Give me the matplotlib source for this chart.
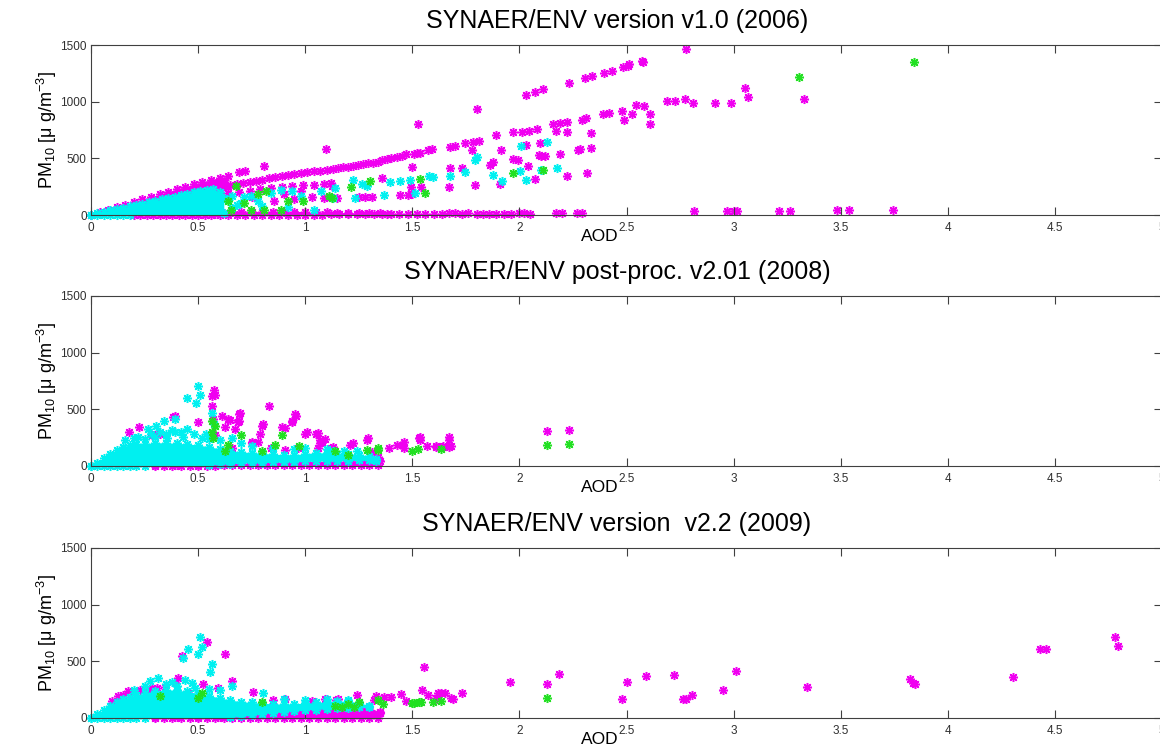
import matplotlib
matplotlib.use('Agg')
import matplotlib.pyplot as plt

plt.rcParams['font.family'] = ['Liberation Sans', 'DejaVu Sans']

MAGENTA = '#f000f0'
CYAN = '#00f0f0'
GREEN = '#22e022'
STAR = (8, 2, 0)

titles = ['SYNAER/ENV version v1.0 (2006)',
          'SYNAER/ENV post-proc. v2.01 (2008)',
          'SYNAER/ENV version  v2.2 (2009)']
aod_ticks = [0, 0.5, 1, 1.5, 2, 2.5, 3, 3.5, 4, 4.5, 5]
aod_labels = ['0', '0.5', '1', '1.5', '2', '2.5', '3', '3.5', '4', '4.5', '5']
pm_ticks = [0, 500, 1000, 1500]
pm_labels = ['0', '500', '1000', '1500']

# ---------------- v1.0 (2006) ----------------
v10_mag_wedge_aod = [0, 0.04, 0.08, 0.12, 0.16, 0.20, 0.24, 0.28, 0.32, 0.36, 0.40, 0.44, 0.48, 0.52, 0.56, 0.60, 0.64]
v10_mag_wedge_low = [0, 0, 0, 0, 0, 0, 0, 0, 0, 0, 0, 0, 0, 0, 0, 180, 250]
v10_mag_wedge_high = [0, 23, 46, 69, 92, 116, 138, 161, 183, 206, 228, 250, 272, 292, 311, 330, 342]

v10_mag_base_aod = [0.58, 0.62, 0.66, 0.70, 0.75, 0.80, 0.85, 0.90, 0.95, 1.00, 1.05, 1.10, 1.15, 1.20, 1.25, 1.30, 1.35, 1.38]
v10_mag_base_high = [12, 18, 24, 26, 28, 28, 28, 28, 28, 26, 25, 24, 22, 20, 18, 16, 14, 12]

v10_mag_line_a = [(0.69, 376), (0.717, 384), (0.806, 433), (1.097, 583), (1.528, 800), (1.80, 938),
                  (2.033, 1059), (2.075, 1083), (2.111, 1111), (2.231, 1169), (2.306, 1212), (2.337, 1226),
                  (2.394, 1255), (2.43, 1275), (2.484, 1304), (2.508, 1313), (2.514, 1329), (2.574, 1357),
                  (2.578, 1346), (2.78, 1466)]
v10_mag_line_b = [(0.50, 212), (0.53, 222), (0.56, 232), (0.59, 242), (0.62, 252), (0.65, 262), (0.68, 272),
                  (0.71, 283), (0.74, 293), (0.77, 303), (0.80, 313), (0.83, 323), (0.86, 333), (0.89, 342),
                  (0.92, 351), (0.95, 360), (0.98, 368), (1.01, 376), (1.04, 384), (1.07, 391), (1.10, 398),
                  (1.131, 403), (1.155, 412), (1.178, 420), (1.201, 426), (1.225, 432), (1.248, 440),
                  (1.271, 449), (1.295, 455), (1.318, 461), (1.34, 470), (1.36, 485), (1.38, 498), (1.40, 504),
                  (1.43, 512), (1.45, 524), (1.47, 535), (1.51, 541), (1.52, 547), (1.536, 550), (1.575, 576),
                  (1.59, 579), (1.676, 599), (1.70, 605), (1.746, 633), (1.785, 642), (1.81, 656), (1.89, 708),
                  (1.968, 734), (2.01, 734), (2.044, 743), (2.08, 763), (2.155, 800), (2.19, 815), (2.22, 823),
                  (2.29, 840), (2.313, 858), (2.39, 893), (2.42, 901), (2.48, 921), (2.526, 891), (2.543, 968),
                  (2.581, 959), (2.612, 891), (2.612, 805), (2.488, 834), (2.687, 1010), (2.725, 1010),
                  (2.773, 1025), (2.81, 988), (2.915, 990), (2.99, 990), (3.054, 1124), (3.067, 1039),
                  (3.327, 1025)]
v10_mag_line_c = [(0.64, 197), (0.69, 206), (0.74, 216), (0.79, 226), (0.84, 236), (0.89, 245), (0.94, 254),
                  (0.99, 262), (1.04, 268), (1.09, 275), (1.12, 281)]
v10_mag_scatter = [(0.856, 121), (1.09, 149), (1.12, 155), (0.98, 211), (0.90, 183), (0.75, 160), (0.95, 140),
                   (1.03, 160), (1.777, 576), (1.912, 576), (2.033, 619), (2.096, 633), (2.17, 743), (2.22, 734),
                   (2.336, 720), (2.274, 570), (2.336, 592), (2.284, 583), (2.10, 525), (2.09, 530), (2.12, 522),
                   (2.19, 541), (1.97, 498), (1.995, 489), (1.862, 440), (1.878, 469), (1.73, 412), (1.676, 412),
                   (1.497, 426), (1.357, 325), (1.671, 248), (1.795, 262), (1.909, 276), (2.072, 320),
                   (2.223, 345), (2.315, 370), (1.496, 248), (1.54, 248), (1.442, 178), (1.48, 178),
                   (1.497, 184), (1.253, 158), (1.279, 158), (1.31, 158), (1.147, 147), (1.124, 259), (2.04, 432)]
v10_mag_floor = [(0.20, 0), (0.23, 0), (0.26, 0), (0.29, 0), (0.32, 0), (0.35, 0), (0.38, 0), (0.41, 0),
                 (0.44, 0), (0.47, 0), (0.50, 0), (0.53, 0), (0.56, 0), (0.60, 3), (0.64, 3), (0.68, 3),
                 (0.72, 3), (0.76, 3), (0.80, 3), (0.84, 3), (0.88, 3), (0.92, 3), (0.96, 3), (1.00, 3),
                 (1.04, 3), (1.08, 3), (1.12, 5), (1.16, 5), (1.20, 5), (1.24, 5), (1.28, 5), (1.32, 5),
                 (1.36, 5), (1.40, 10), (1.44, 10), (1.48, 12), (1.52, 10), (1.56, 12), (1.60, 10), (1.64, 12),
                 (1.67, 15), (1.70, 15), (1.73, 12), (1.76, 15), (1.80, 12), (1.83, 12), (1.86, 12), (1.89, 12),
                 (1.93, 12), (1.96, 12), (2.00, 15), (2.02, 15), (2.05, 12), (2.17, 15), (2.20, 15), (2.27, 15),
                 (2.29, 20), (2.817, 37), (2.967, 37), (3.00, 37), (3.016, 37), (3.214, 37), (3.261, 37),
                 (3.483, 43), (3.538, 43), (3.746, 48)]

v10_cyan_aod = [0, 0.03, 0.06, 0.09, 0.12, 0.15, 0.18, 0.21, 0.24, 0.27, 0.30, 0.33, 0.36, 0.39, 0.42, 0.45,
                0.48, 0.51, 0.54, 0.57, 0.60, 0.62]
v10_cyan_low = [0, 0, 0, 0, 0, 0, 0, 0, 0, 0, 0, 0, 0, 0, 0, 0, 0, 0, 0, 0, 0, 20]
v10_cyan_high = [0, 15, 28, 40, 52, 64, 76, 88, 100, 113, 126, 138, 151, 163, 176, 188, 201, 212, 220, 226,
                 205, 150]
v10_cyan_floor = [(0.0, 0), (0.03, 0), (0.06, 0), (0.09, 0), (0.12, 0), (0.15, 0), (0.18, 0)]
v10_cyan_scatter = [(0.716, 155), (0.747, 169), (0.778, 126), (0.84, 197), (0.887, 225), (0.94, 211),
                    (0.98, 169), (1.04, 48), (1.128, 149), (1.074, 211), (0.68, 84), (0.66, 60), (0.70, 110),
                    (0.80, 80), (0.92, 70), (0.64, 130), (0.66, 170), (1.795, 489), (1.80, 512), (2.007, 613),
                    (2.127, 642), (2.174, 412), (2.10, 400), (1.878, 354), (1.921, 297), (2.002, 392),
                    (2.033, 311), (1.746, 383), (1.676, 345), (1.58, 345), (1.597, 334), (1.49, 311),
                    (1.443, 302), (1.396, 291), (1.264, 276), (1.287, 259), (1.225, 311), (1.37, 173),
                    (1.232, 153), (1.139, 239), (1.512, 196)]
v10_green = [(0.677, 253), (0.778, 183), (0.817, 211), (0.918, 126), (0.988, 126), (1.113, 169), (0.654, 42),
             (0.747, 42), (0.809, 42), (0.887, 42), (0.716, 104), (0.638, 126), (1.536, 320), (1.302, 299),
             (1.212, 248), (1.559, 196), (1.968, 374), (1.124, 153), (2.11, 395), (3.305, 1215), (3.84, 1346)]

# ---------------- v2.01 (2008) ----------------
v201_mag_base_aod = [0.30, 0.40, 0.50, 0.60, 0.70, 0.80, 0.90, 1.00, 1.10, 1.20, 1.30, 1.35]
v201_mag_base_high = [5, 8, 12, 20, 25, 30, 35, 40, 42, 45, 48, 40]
v201_mag_floor = [(0.30, 0), (0.34, 0), (0.38, 0), (0.42, 0), (0.46, 0), (0.50, 0), (0.54, 0), (0.58, 0),
                  (0.62, 5), (0.66, 5), (0.70, 5), (0.74, 5), (0.78, 5), (0.82, 5), (0.86, 5), (0.90, 5),
                  (0.94, 5), (0.98, 5), (1.02, 5), (1.06, 5), (1.10, 5), (1.14, 5), (1.18, 5), (1.22, 5),
                  (1.26, 5), (1.30, 5), (1.34, 5)]
v201_mag_scatter = [(0.179, 300), (0.223, 343), (0.32, 286), (0.393, 443), (0.573, 671), (0.58, 629),
                    (0.563, 614), (0.563, 529), (0.50, 386), (0.57, 414), (0.61, 443), (0.64, 414), (0.69, 400),
                    (0.69, 457), (0.625, 343), (0.58, 271), (0.67, 329), (0.75, 214), (0.79, 286), (0.80, 357),
                    (0.83, 529), (0.893, 343), (0.94, 400), (0.955, 443), (1.00, 286), (1.05, 286), (1.07, 229),
                    (1.07, 200), (1.21, 186), (1.29, 229), (1.13, 170), (1.223, 200), (1.294, 244), (1.31, 126),
                    (1.345, 53), (1.34, 82), (1.27, 53), (1.216, 53), (1.14, 53), (1.427, 185), (1.461, 214),
                    (1.461, 156), (1.536, 259), (1.536, 229), (1.567, 176), (1.61, 176), (1.645, 176),
                    (1.673, 259), (1.68, 176), (2.127, 306), (2.23, 320), (0.283, 271), (0.306, 286),
                    (0.384, 429), (0.649, 409), (0.688, 386), (0.696, 466), (0.805, 371), (0.906, 334),
                    (0.937, 386), (0.952, 457), (1.007, 300), (1.06, 294), (1.077, 214), (1.092, 237),
                    (0.657, 157), (0.75, 200), (0.78, 214), (0.84, 157), (0.906, 143), (0.968, 157), (1.06, 157),
                    (1.12, 157), (1.39, 157), (1.45, 186), (1.53, 243), (1.61, 171), (1.64, 171), (1.67, 229),
                    (1.67, 171)]

v201_cyan_aod = [0, 0.03, 0.06, 0.09, 0.12, 0.15, 0.18, 0.21, 0.25, 0.30, 0.35, 0.40, 0.45, 0.50, 0.55, 0.60,
                 0.65, 0.70, 0.75, 0.80, 0.85, 0.90, 0.95, 1.00, 1.05, 1.10, 1.15, 1.20, 1.25, 1.30, 1.33]
v201_cyan_low = [0, 0, 0, 0, 0, 0, 0, 0, 0, 0, 0, 0, 0, 0, 5, 15, 20, 25, 28, 30, 32, 35, 38, 40, 42, 45, 45,
                 48, 50, 50, 45]
v201_cyan_high = [0, 30, 70, 110, 145, 170, 185, 192, 198, 205, 205, 200, 195, 185, 170, 152, 135, 125, 118,
                  112, 105, 100, 100, 108, 118, 115, 110, 110, 100, 90, 60]
v201_cyan_floor = [(0.0, 0), (0.03, 0), (0.06, 0), (0.09, 0), (0.12, 0), (0.15, 0), (0.18, 0), (0.21, 0),
                   (0.25, 0)]
v201_cyan_scatter = [(0.50, 706), (0.446, 600), (0.509, 629), (0.491, 557), (0.563, 471), (0.34, 400),
                     (0.304, 357), (0.268, 329), (0.393, 414), (0.573, 371), (0.536, 286), (0.66, 243),
                     (0.16, 230), (0.20, 250), (0.22, 260), (0.25, 240), (0.28, 280), (0.30, 260), (0.32, 300),
                     (0.35, 280), (0.357, 250), (0.38, 320), (0.39, 300), (0.42, 300), (0.43, 257), (0.45, 330),
                     (0.48, 280), (0.52, 250), (0.55, 240), (0.60, 230), (0.70, 200), (0.75, 180), (0.85, 160),
                     (0.95, 150), (1.00, 160), (1.10, 150), (1.13, 130), (1.18, 130), (1.24, 130)]
v201_green = [(2.127, 183), (2.23, 190), (1.497, 135), (1.528, 147), (1.634, 147), (1.34, 159), (0.893, 271),
              (0.86, 186), (0.563, 400), (0.563, 300), (0.64, 186), (0.70, 271), (1.29, 143), (1.14, 129),
              (1.34, 143), (0.80, 129), (0.625, 129), (0.58, 350), (0.57, 250), (0.97, 180), (1.20, 100)]

# ---------------- v2.2 (2009) ----------------
v22_mag_base_aod = [0.30, 0.40, 0.50, 0.60, 0.65, 0.70, 0.75, 0.80, 0.85, 0.90, 0.95, 1.00, 1.05, 1.10, 1.15,
                    1.20, 1.25, 1.30, 1.35]
v22_mag_base_high = [5, 5, 5, 8, 12, 22, 32, 45, 52, 62, 70, 78, 83, 88, 93, 98, 100, 95, 50]
v22_mag_floor = [(0.30, 0), (0.34, 0), (0.38, 0), (0.42, 0), (0.46, 0), (0.50, 0), (0.54, 0), (0.58, 0),
                 (0.62, 0), (0.66, 3), (0.70, 3), (0.74, 3), (0.78, 3), (0.82, 3), (0.86, 3), (0.90, 3),
                 (0.94, 3), (0.98, 3), (1.02, 3), (1.06, 3), (1.10, 3), (1.14, 3), (1.18, 3), (1.22, 3),
                 (1.26, 3), (1.30, 3), (1.34, 3)]
v22_mag_edge = [(0.10, 150), (0.128, 194), (0.15, 200), (0.174, 237), (0.20, 230), (0.23, 245), (0.26, 250),
                (0.283, 262), (0.307, 262), (0.345, 275)]
v22_mag_scatter = [(0.54, 671), (0.423, 546), (0.626, 566), (0.657, 329), (0.594, 266), (0.524, 300),
                   (0.408, 357), (0.758, 229), (0.392, 309), (0.454, 223), (0.851, 157), (0.906, 166),
                   (1.03, 151), (1.092, 166), (1.155, 166), (1.553, 450), (1.957, 315), (2.128, 300),
                   (2.187, 388), (1.445, 212), (1.544, 250), (1.571, 205), (1.634, 218), (1.652, 218),
                   (1.688, 165), (1.733, 225), (1.47, 150), (1.616, 165), (1.40, 184), (1.33, 190), (1.35, 42),
                   (1.32, 160), (1.367, 188), (1.242, 200), (1.145, 156), (1.622, 223), (1.61, 174), (1.68, 174),
                   (2.478, 168), (2.50, 321), (2.592, 369), (2.72, 383), (2.765, 168), (2.777, 168),
                   (2.808, 201), (2.95, 243), (3.01, 419), (3.343, 277), (3.824, 341), (3.836, 313),
                   (3.846, 304), (4.305, 360), (4.43, 612), (4.46, 612), (4.78, 712), (4.796, 634)]

v22_cyan_aod = [0, 0.03, 0.06, 0.09, 0.12, 0.15, 0.18, 0.21, 0.25, 0.30, 0.35, 0.40, 0.45, 0.50, 0.55, 0.60,
                0.65, 0.70, 0.75, 0.80, 0.85, 0.90, 0.95, 1.00, 1.05, 1.10, 1.15, 1.20, 1.25, 1.30]
v22_cyan_low = [0, 0, 0, 0, 0, 0, 0, 0, 0, 0, 0, 0, 0, 0, 0, 0, 5, 15, 25, 38, 45, 55, 62, 70, 75, 80, 85, 90,
                95, 95]
v22_cyan_high = [0, 35, 70, 105, 140, 165, 185, 200, 220, 240, 250, 245, 235, 215, 198, 178, 158, 145, 137,
                 130, 125, 123, 126, 132, 137, 143, 148, 150, 135, 110]
v22_cyan_floor = [(0.0, 0), (0.03, 0), (0.06, 0), (0.09, 0), (0.12, 0), (0.15, 0), (0.18, 0), (0.21, 0),
                  (0.25, 0)]
v22_cyan_scatter = [(0.509, 714), (0.517, 623), (0.454, 609), (0.501, 566), (0.43, 530), (0.563, 480),
                    (0.556, 409), (0.314, 357), (0.275, 329), (0.439, 337), (0.47, 309), (0.657, 280),
                    (0.805, 223), (0.485, 266), (0.35, 300), (0.38, 320), (0.60, 250), (0.90, 170), (1.00, 160),
                    (1.10, 170), (1.20, 160), (0.25, 280), (0.20, 250), (0.40, 280), (0.55, 260)]
v22_green = [(0.322, 194), (0.517, 223), (0.50, 180), (0.797, 143), (1.14, 109), (1.17, 94), (2.128, 175),
             (1.508, 133), (1.54, 141), (1.598, 141), (1.634, 150), (1.364, 127), (1.34, 156), (1.50, 135),
             (1.533, 144), (1.20, 120), (1.25, 140), (1.23, 100)]


def stars(ax, points, color, z):
    x = [p[0] for p in points]
    y = [p[1] for p in points]
    ax.plot(x, y, ls='none', marker=STAR, ms=6.5, mew=1.1, color=color,
            clip_on=False, zorder=z)


def dense(ax, aod, low, high, color, z):
    # overlapping points are drawn as a solid band with starred edges
    ax.fill_between(aod, low, high, color=color, lw=0, zorder=z)
    stars(ax, list(zip(aod, high)), color, z)
    stars(ax, [(a, l) for a, l in zip(aod, low) if l > 0], color, z)


def style_axes(ax, title):
    ax.set_xlim(0, 5)
    ax.set_ylim(0, 1500)
    ax.set_xticks(aod_ticks)
    ax.set_xticklabels(aod_labels)
    ax.set_yticks(pm_ticks)
    ax.set_yticklabels(pm_labels)
    ax.tick_params(direction='in', top=True, right=True, length=6, width=0.8,
                   color='#404040', labelcolor='#303030', labelsize=8.5, pad=3)
    ax.tick_params(axis='x', pad=5)
    for sp in ax.spines.values():
        sp.set_color('#404040')
        sp.set_linewidth(0.8)
        sp.set_zorder(5)
    ax.set_title(title, fontsize=18, pad=12, x=0.491)
    ax.set_xlabel('AOD', fontsize=12.5)
    ax.xaxis.set_label_coords(0.475, -0.085)
    ax.set_ylabel('PM$_{\\mathregular{10}}$ [\u03bc g/m$^{\\mathregular{-3}}$]', fontsize=13, labelpad=1)


fig = plt.figure(figsize=(11.6, 7.55), dpi=100)
left, width, height = 91 / 1160, 1071 / 1160, 170 / 755
bottoms = [1 - 215 / 755, 1 - 466 / 755, 1 - 718 / 755]
axes = [fig.add_axes([left, b, width, height]) for b in bottoms]

# v1.0
ax = axes[0]
dense(ax, v10_mag_wedge_aod, v10_mag_wedge_low, v10_mag_wedge_high, MAGENTA, 1)
dense(ax, v10_mag_base_aod, [0] * len(v10_mag_base_aod), v10_mag_base_high, MAGENTA, 1)
for group in [v10_mag_line_a, v10_mag_line_b, v10_mag_line_c, v10_mag_scatter, v10_mag_floor]:
    stars(ax, group, MAGENTA, 1)
dense(ax, v10_cyan_aod, v10_cyan_low, v10_cyan_high, CYAN, 2)
stars(ax, v10_cyan_floor, CYAN, 2)
stars(ax, v10_cyan_scatter, CYAN, 2)
stars(ax, v10_green, GREEN, 3)
style_axes(ax, titles[0])

# v2.01
ax = axes[1]
dense(ax, v201_mag_base_aod, [0] * len(v201_mag_base_aod), v201_mag_base_high, MAGENTA, 1)
stars(ax, v201_mag_floor, MAGENTA, 1)
stars(ax, v201_mag_scatter, MAGENTA, 1)
dense(ax, v201_cyan_aod, v201_cyan_low, v201_cyan_high, CYAN, 2)
stars(ax, v201_cyan_floor, CYAN, 2)
stars(ax, v201_cyan_scatter, CYAN, 2)
stars(ax, v201_green, GREEN, 3)
style_axes(ax, titles[1])

# v2.2
ax = axes[2]
dense(ax, v22_mag_base_aod, [0] * len(v22_mag_base_aod), v22_mag_base_high, MAGENTA, 1)
stars(ax, v22_mag_floor, MAGENTA, 1)
stars(ax, v22_mag_edge, MAGENTA, 1)
stars(ax, v22_mag_scatter, MAGENTA, 1)
dense(ax, v22_cyan_aod, v22_cyan_low, v22_cyan_high, CYAN, 2)
stars(ax, v22_cyan_floor, CYAN, 2)
stars(ax, v22_cyan_scatter, CYAN, 2)
stars(ax, v22_green, GREEN, 3)
style_axes(ax, titles[2])

fig.savefig('out.png', dpi=100, facecolor='white')
